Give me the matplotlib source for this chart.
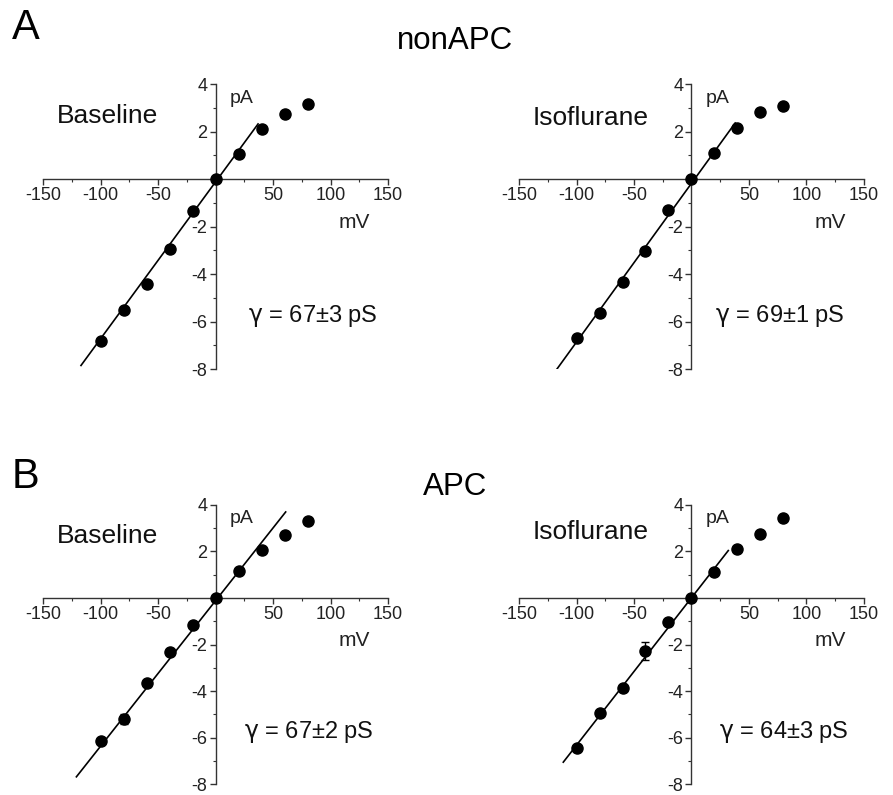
import numpy as np
import matplotlib.pyplot as plt
from matplotlib.ticker import MultipleLocator

plt.rcParams['font.family'] = ['Liberation Sans', 'DejaVu Sans']

# DATA
voltage = [-100, -80, -60, -40, -20, 0, 20, 40, 60, 80]

a_base_i = [-6.81, -5.52, -4.43, -2.96, -1.33, 0.0, 1.07, 2.12, 2.74, 3.16]
a_iso_i = [-6.71, -5.64, -4.32, -3.03, -1.31, 0.0, 1.08, 2.13, 2.81, 3.06]
b_base_i = [-6.15, -5.20, -3.66, -2.31, -1.15, 0.0, 1.15, 2.06, 2.69, 3.33]
b_iso_i = [-6.43, -4.96, -3.87, -2.27, -1.05, 0.0, 1.13, 2.11, 2.77, 3.43]

a_base_err = [0.05, 0.05, 0.05, 0.05, 0.05, 0.0, 0.05, 0.05, 0.05, 0.05]
a_iso_err = [0.05, 0.05, 0.05, 0.05, 0.05, 0.0, 0.05, 0.05, 0.05, 0.05]
b_base_err = [0.08, 0.2, 0.15, 0.08, 0.05, 0.0, 0.05, 0.08, 0.08, 0.12]
b_iso_err = [0.05, 0.05, 0.12, 0.39, 0.05, 0.0, 0.05, 0.05, 0.12, 0.05]

# linear fit segments (endpoints)
a_base_fit_x = [-117, 37]
a_base_fit_y = [-7.85, 2.32]
a_iso_fit_x = [-117, 38]
a_iso_fit_y = [-8.0, 2.36]
b_base_fit_x = [-121, 61]
b_base_fit_y = [-7.69, 3.70]
b_iso_fit_x = [-111.5, 32]
b_iso_fit_y = [-7.06, 2.04]

conditions = ["Baseline", "Isoflurane", "Baseline", "Isoflurane"]
conductance = ["67\u00b13", "69\u00b11", "67\u00b12", "64\u00b13"]

fig = plt.figure(figsize=(8.93, 7.95), dpi=100)

axes_pos = [
    [0.0482, 0.5358, 0.3863, 0.3585],
    [0.5812, 0.5358, 0.3863, 0.3585],
    [0.0482, 0.0138, 0.3863, 0.3510],
    [0.5812, 0.0138, 0.3863, 0.3510],
]
currents = [a_base_i, a_iso_i, b_base_i, b_iso_i]
errors = [a_base_err, a_iso_err, b_base_err, b_iso_err]
fits = [(a_base_fit_x, a_base_fit_y), (a_iso_fit_x, a_iso_fit_y),
        (b_base_fit_x, b_base_fit_y), (b_iso_fit_x, b_iso_fit_y)]
label_y = [2.65, 2.57, 2.66, 2.83]
gamma_x = [85, 77, 81, 80]

axis_color = "#333333"

for k in range(4):
    ax = fig.add_axes(axes_pos[k])
    ax.set_xlim(-150, 150)
    ax.set_ylim(-8, 4)
    ax.patch.set_alpha(0)

    ax.plot(fits[k][0], fits[k][1], color="black", lw=1.2, zorder=2)
    ax.errorbar(voltage, currents[k], yerr=errors[k], fmt="o", color="black",
                markersize=8, capsize=3, elinewidth=1, zorder=3, clip_on=False)

    ax.spines["left"].set_position(("data", 0))
    ax.spines["bottom"].set_position(("data", 0))
    ax.spines["top"].set_visible(False)
    ax.spines["right"].set_visible(False)
    for s in ["left", "bottom"]:
        ax.spines[s].set_color(axis_color)
        ax.spines[s].set_linewidth(1.0)

    ax.xaxis.set_minor_locator(MultipleLocator(25))
    ax.yaxis.set_minor_locator(MultipleLocator(1))
    ax.set_xticks([-150, -100, -50, 50, 100, 150])
    ax.set_xticklabels(["-150", "-100", "-50", "50", "100", "150"])
    ax.set_yticks([-8, -6, -4, -2, 2, 4])
    ax.set_yticklabels(["-8", "-6", "-4", "-2", "2", "4"])
    ax.tick_params(which="major", length=4, width=1, color=axis_color,
                   labelsize=13, labelcolor="#222222", pad=2)
    ax.tick_params(which="minor", length=2.5, width=0.8, color=axis_color)

    ax.text(12.5, 3.4, "pA", fontsize=14, ha="left", va="center", color="#222222")
    ax.text(121, -1.82, "mV", fontsize=15, ha="center", va="center", color="#222222")
    ax.text(-138, label_y[k], conditions[k], fontsize=19, ha="left", va="center",
            color="#111111")
    ax.text(gamma_x[k], -5.75, r"$\mathrm{\gamma}$ = " + conductance[k] + " pS",
            fontsize=17, ha="center", va="center", color="#111111")

fig.text(0.013, 0.99, "A", fontsize=30, ha="left", va="top")
fig.text(0.013, 0.425, "B", fontsize=30, ha="left", va="top")
fig.text(0.51, 0.948, "nonAPC", fontsize=22.5, ha="center", va="center")
fig.text(0.51, 0.388, "APC", fontsize=22.5, ha="center", va="center")

fig.savefig("out.png", dpi=100)
